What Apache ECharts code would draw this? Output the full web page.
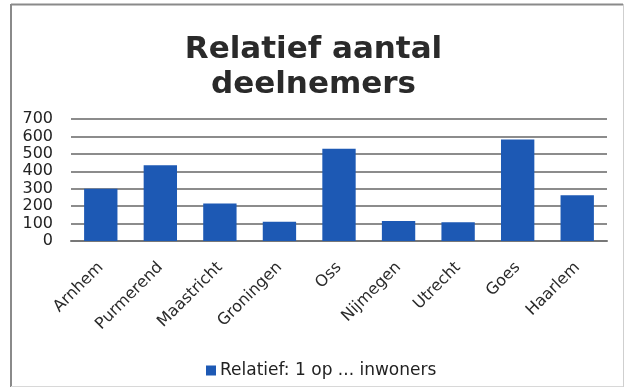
<!DOCTYPE html>
<html>
<head>
<meta charset="utf-8">
<script src="https://cdn.jsdelivr.net/npm/echarts@6/dist/echarts.min.js"></script>
<style>html,body{margin:0;padding:0;background:#fff;}#c{width:627px;height:390px;}</style>
</head>
<body>
<div id="c"></div>
<script>
const titleText = 'Relatief aantal\ndeelnemers';
const categories = ['Arnhem', 'Purmerend', 'Maastricht', 'Groningen', 'Oss', 'Nijmegen', 'Utrecht', 'Goes', 'Haarlem'];
const seriesName = 'Relatief: 1 op ... inwoners';
const values = [300, 435, 215, 110, 530, 115, 107, 583, 263];
const yTicks = [0, 100, 200, 300, 400, 500, 600, 700];

const chart = echarts.init(document.getElementById('c'), null, {renderer: 'canvas'});
chart.setOption({
  backgroundColor: '#fff',
  animation: false,
  graphic: [
    {type: 'line', shape: {x1: 11, y1: 4.5, x2: 623, y2: 4.5}, style: {stroke: '#8a8a8a', lineWidth: 2}, silent: true},
    {type: 'line', shape: {x1: 11, y1: 4, x2: 11, y2: 387}, style: {stroke: '#8a8a8a', lineWidth: 2}, silent: true},
    {type: 'line', shape: {x1: 623.5, y1: 4, x2: 623.5, y2: 387}, style: {stroke: '#cfcfcf', lineWidth: 1}, silent: true},
    {type: 'line', shape: {x1: 11, y1: 386.5, x2: 623, y2: 386.5}, style: {stroke: '#d8d8d8', lineWidth: 1}, silent: true}
  ],
  title: {
    text: titleText, left: 'center', top: 27,
    textStyle: {fontFamily: 'DejaVu Sans', fontWeight: 'bold', fontSize: 31, lineHeight: 35, color: '#2a2a2a'}
  },
  legend: {
    top: 357, left: 201, itemWidth: 10, itemHeight: 10, itemGap: 4,
    icon: 'rect',
    textStyle: {fontFamily: 'DejaVu Sans', fontSize: 17, color: '#222', padding: [0, 0, 0, -1]},
    data: [seriesName]
  },
  grid: {left: 71, right: 20, top: 119, bottom: 149, containLabel: false},
  xAxis: {
    type: 'category', data: categories,
    axisLine: {show: true, lineStyle: {color: '#777', width: 2}},
    axisTick: {show: false},
    axisLabel: {rotate: 45, interval: 0, margin: 24, fontFamily: 'DejaVu Sans', fontSize: 16, color: '#2a2a2a'}
  },
  yAxis: {
    type: 'value', min: 0, max: 700, interval: 100,
    axisLine: {show: false}, axisTick: {show: false},
    axisLabel: {fontFamily: 'DejaVu Sans', fontSize: 16, color: '#222', margin: 18,
      formatter: v => yTicks.includes(v) ? String(v) : ''},
    splitLine: {lineStyle: {color: '#666', width: 1.5}}
  },
  series: [{
    name: seriesName, type: 'bar', data: values,
    barCategoryGap: '44%',
    itemStyle: {color: '#1d59b4'}
  }]
});
</script>
</body>
</html>
